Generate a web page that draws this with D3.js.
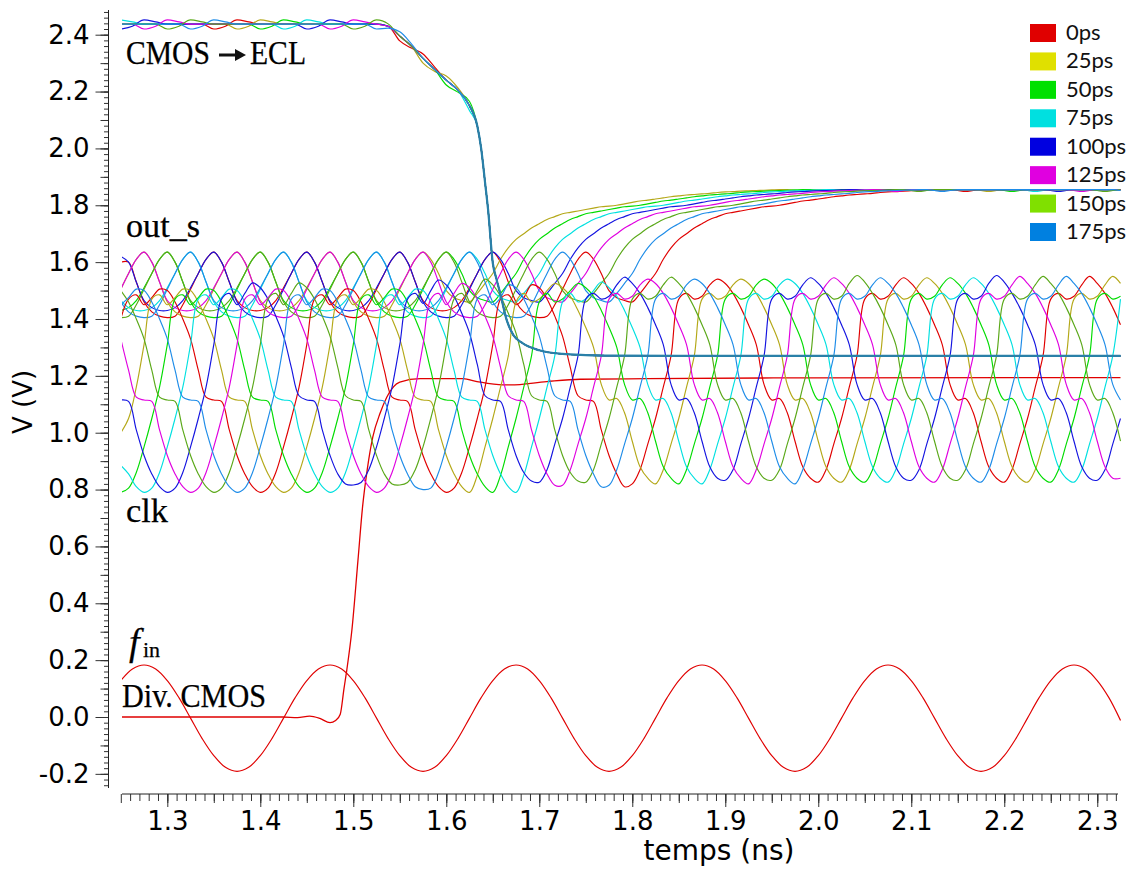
<!DOCTYPE html>
<html><head><meta charset="utf-8">
<script src="https://d3js.org/d3.v7.min.js"></script>
<style>html,body{margin:0;background:#fff}svg{display:block}</style></head>
<body><svg id="c" width="1134" height="871"></svg>
<script>
const legendLabels=["0ps","25ps","50ps","75ps","100ps","125ps","150ps","175ps"];
const legendColors=["#e00000","#e0e000","#00e000","#00e0e0","#0000e0","#e000e0","#80e000","#0080e0"];
const traceColors=["#e00000","#b4a818","#00dc00","#00e0e0","#1414e0","#e000e0","#5aa818","#1e8ce8"];
const xMajor=[1.3,1.4,1.5,1.6,1.7,1.8,1.9,2.0,2.1,2.2,2.3];
const yMajor=[2.4,2.2,2.0,1.8,1.6,1.4,1.2,1.0,0.8,0.6,0.4,0.2,0.0,-0.2];
const sampleCount=130; // clk and out_s sampled every 1/120 ns from 1.25 ns

const clk0=[1.40,1.47,1.485,1.45,1.475,1.505,1.50,1.46,1.40,1.33,1.22,1.125,1.115,1.11,1.01,.92,.855,.81,
.79,.805,.86,.95,1.05,1.16,1.31,1.47,1.485,1.45,1.475,1.505,1.50,1.46,1.40,1.33,1.22,1.125,1.115,1.11,1.01,.92,.855,.81,
.79,.805,.86,.95,1.05,1.16,1.31,1.47,1.485,1.45,1.475,1.52,1.51,1.47,1.41,1.34,1.23,1.13,1.115,1.11,1.01,.92,.855,.81,
.82,.87,.96,1.05,1.16,1.27,1.47,1.49,1.47,1.48,1.52,1.54,1.525,1.49,1.44,1.38,1.31,1.17,1.115,1.12,1.07,.97,.88,.84,
.826,.87,.96,1.05,1.16,1.27,1.47,1.49,1.47,1.48,1.52,1.545,1.525,1.49,1.44,1.38,1.31,1.17,1.115,1.12,1.07,.97,.88,.84,
.826,.87,.96,1.05,1.16,1.27,1.47,1.49,1.47,1.48,1.52,1.55,1.525,1.49,1.44,1.38];
const clk25=[1.00,1.05,1.16,1.31,1.47,1.485,1.45,1.475,1.505,1.50,1.46,1.40,1.33,1.22,1.125,1.115,1.11,1.01,.92,.855,.81,
.79,.805,.86,.95,1.05,1.16,1.31,1.47,1.485,1.45,1.475,1.505,1.50,1.46,1.40,1.33,1.22,1.125,1.115,1.11,1.01,.92,.855,.81,
.79,.85,.95,1.05,1.16,1.27,1.46,1.49,1.46,1.47,1.50,1.525,1.51,1.48,1.43,1.37,1.30,1.17,1.115,1.12,1.07,.97,.88,.84,
.82,.87,.96,1.05,1.16,1.27,1.47,1.49,1.47,1.48,1.52,1.54,1.525,1.49,1.44,1.38,1.31,1.17,1.115,1.12,1.07,.97,.88,.84,
.826,.87,.96,1.05,1.16,1.27,1.47,1.49,1.47,1.48,1.52,1.545,1.525,1.49,1.44,1.38,1.31,1.17,1.115,1.12,1.07,.97,.88,.84,
.826,.87,.96,1.05,1.16,1.27,1.47,1.49,1.47,1.48,1.52,1.55,1.525];
const clk50=[.79,.805,.86,.95,1.05,1.16,1.31,1.47,1.485,1.45,1.475,1.505,1.50,1.46,1.40,1.33,1.22,1.125,1.115,1.11,1.01,.92,.855,.81,
.79,.805,.86,.95,1.05,1.16,1.31,1.47,1.485,1.45,1.475,1.505,1.50,1.46,1.40,1.33,1.22,1.125,1.115,1.11,1.01,.92,.855,.81,
.79,.85,.95,1.05,1.16,1.27,1.46,1.49,1.46,1.47,1.50,1.525,1.51,1.48,1.43,1.37,1.30,1.17,1.115,1.12,1.07,.97,.88,.84,
.82,.87,.96,1.05,1.16,1.27,1.47,1.49,1.47,1.48,1.52,1.54,1.525,1.49,1.44,1.38,1.31,1.17,1.115,1.12,1.07,.97,.88,.84,
.826,.87,.96,1.05,1.16,1.27,1.47,1.49,1.47,1.48,1.52,1.545,1.525,1.49,1.44,1.38,1.31,1.17,1.115,1.12,1.07,.97,.88,.84,
.826,.87,.96,1.05,1.16,1.27,1.47,1.49,1.47,1.48];
const clk75=[.885,.855,.81,
.79,.805,.86,.95,1.05,1.16,1.31,1.47,1.485,1.45,1.475,1.505,1.50,1.46,1.40,1.33,1.22,1.125,1.115,1.11,1.01,.92,.855,.81,
.79,.805,.86,.95,1.05,1.16,1.31,1.47,1.485,1.45,1.475,1.505,1.50,1.46,1.40,1.33,1.22,1.125,1.115,1.11,1.01,.92,.855,.81,
.79,.85,.95,1.05,1.16,1.27,1.46,1.49,1.46,1.47,1.50,1.53,1.51,1.48,1.43,1.37,1.30,1.17,1.115,1.12,1.07,.97,.88,.84,
.82,.87,.96,1.05,1.16,1.27,1.47,1.49,1.47,1.48,1.52,1.54,1.525,1.49,1.44,1.38,1.31,1.17,1.115,1.12,1.07,.97,.88,.84,
.826,.87,.96,1.05,1.16,1.27,1.47,1.49,1.47,1.48,1.52,1.545,1.525,1.49,1.44,1.38,1.31,1.17,1.115,1.12,1.07,.97,.88,.84,
.826,.87,.96,1.05,1.16,1.27,1.47];
const clk100=[1.115,1.11,1.01,.92,.855,.81,
.79,.805,.86,.95,1.05,1.16,1.31,1.47,1.49,1.45,1.49,1.527,1.51,1.47,1.41,1.34,1.23,1.13,1.115,1.11,1.01,.92,.855,.82,
.816,.825,.87,.95,1.05,1.16,1.31,1.47,1.49,1.455,1.50,1.537,1.52,1.48,1.42,1.35,1.24,1.13,1.115,1.11,1.01,.92,.86,.83,
.826,.87,.96,1.05,1.16,1.27,1.47,1.49,1.47,1.48,1.52,1.547,1.525,1.49,1.44,1.38,1.31,1.17,1.115,1.12,1.07,.97,.88,.84,
.833,.87,.96,1.05,1.16,1.27,1.47,1.49,1.47,1.48,1.52,1.545,1.525,1.49,1.44,1.38,1.31,1.17,1.115,1.12,1.07,.97,.88,.84,
.833,.87,.96,1.05,1.16,1.27,1.47,1.49,1.47,1.48,1.525,1.553,1.53,1.49,1.44,1.38,1.31,1.17,1.115,1.12,1.07,.97,.88,.84,
.833,.87,.96,1.05];
const clk125=[1.33,1.22,1.125,1.115,1.11,1.01,.92,.855,.81,
.79,.805,.86,.95,1.05,1.16,1.31,1.47,1.485,1.45,1.475,1.505,1.50,1.46,1.40,1.33,1.22,1.125,1.115,1.11,1.01,.92,.855,.81,
.79,.805,.86,.95,1.05,1.16,1.31,1.47,1.49,1.45,1.49,1.525,1.51,1.47,1.41,1.34,1.23,1.13,1.115,1.11,1.01,.92,.855,.815,
.815,.87,.96,1.05,1.16,1.27,1.47,1.49,1.47,1.48,1.52,1.54,1.525,1.49,1.44,1.38,1.31,1.17,1.115,1.12,1.07,.97,.88,.84,
.82,.87,.96,1.05,1.16,1.27,1.47,1.49,1.47,1.48,1.52,1.545,1.525,1.49,1.44,1.38,1.31,1.17,1.115,1.12,1.07,.97,.88,.84,
.826,.87,.96,1.05,1.16,1.27,1.47,1.49,1.47,1.48,1.52,1.55,1.525,1.49,1.44,1.38,1.31,1.17,1.115,1.12,1.07,.97,.88,.84,
.84];
const clk150=[1.50,1.46,1.40,1.33,1.22,1.125,1.115,1.11,1.01,.92,.855,.81,
.79,.805,.86,.95,1.05,1.16,1.31,1.47,1.49,1.45,1.49,1.527,1.51,1.47,1.41,1.34,1.23,1.13,1.115,1.11,1.01,.92,.855,.82,
.816,.825,.87,.95,1.05,1.16,1.31,1.47,1.49,1.455,1.50,1.54,1.52,1.48,1.42,1.35,1.24,1.13,1.115,1.11,1.01,.92,.86,.83,
.826,.87,.96,1.05,1.16,1.27,1.47,1.49,1.47,1.48,1.52,1.547,1.525,1.49,1.44,1.38,1.31,1.17,1.115,1.12,1.07,.97,.88,.84,
.833,.87,.96,1.05,1.16,1.27,1.47,1.49,1.47,1.48,1.525,1.553,1.53,1.49,1.44,1.38,1.31,1.17,1.115,1.12,1.07,.97,.88,.84,
.833,.87,.96,1.05,1.16,1.27,1.47,1.49,1.47,1.48,1.52,1.55,1.525,1.49,1.44,1.38,1.31,1.17,1.115,1.12,1.07,.97];
const clk175=[1.45,1.475,1.505,1.50,1.46,1.40,1.33,1.22,1.125,1.115,1.11,1.01,.92,.855,.81,
.79,.805,.86,.95,1.05,1.16,1.31,1.47,1.485,1.45,1.475,1.505,1.50,1.46,1.40,1.33,1.22,1.125,1.115,1.11,1.01,.92,.855,.81,
.80,.805,.86,.95,1.05,1.16,1.31,1.47,1.485,1.45,1.475,1.52,1.51,1.47,1.41,1.34,1.23,1.13,1.115,1.11,1.01,.92,.855,.81,
.815,.87,.96,1.05,1.16,1.27,1.47,1.49,1.47,1.48,1.52,1.54,1.525,1.49,1.44,1.38,1.31,1.17,1.115,1.12,1.07,.97,.88,.84,
.82,.87,.96,1.05,1.16,1.27,1.47,1.49,1.47,1.48,1.52,1.545,1.525,1.49,1.44,1.38,1.31,1.17,1.115,1.12,1.07,.97,.88,.84,
.826,.87,.96,1.05,1.16,1.27,1.47,1.49,1.47,1.48,1.52,1.55,1.525,1.49,1.44,1.38,1.31,1.17,1.115];

const out0=[1.60,
1.60,1.53,1.46,1.425,1.41,1.405,1.41,1.45,1.505,1.56,1.61,1.635,
1.60,1.53,1.465,1.44,1.43,1.43,1.44,1.465,1.51,1.56,1.61,1.635,
1.60,1.53,1.46,1.425,1.41,1.405,1.41,1.45,1.505,1.56,1.61,1.635,
1.60,1.53,1.465,1.44,1.43,1.43,1.44,1.465,1.51,1.56,1.61,1.635,
1.60,1.53,1.46,1.425,1.41,1.405,1.41,1.45,1.505,1.56,1.61,1.635,
1.61,1.56,1.50,1.475,1.465,1.46,1.49,1.525,1.56,1.61,1.65,1.68,1.70,1.72,1.735,1.75,1.76,1.77,1.775,1.78,1.785,1.79,1.795,1.797,1.80,1.805,1.81,1.815,1.818,1.822,1.826,1.83,1.833,1.836,1.838,1.84,1.842,1.845,1.847,1.848,1.85,1.851,1.852,1.853,1.854,
1.855,1.855,1.852,1.849,1.852,
1.855,1.855,1.855,1.855,1.855,1.855,1.855,1.855,1.855,1.855,1.855,1.855,1.855,1.855,1.855,1.855,1.855,1.855,1.855];
const out25=[1.505,1.56,1.61,1.635,
1.60,1.53,1.46,1.425,1.41,1.405,1.41,1.45,1.505,1.56,1.61,1.635,
1.60,1.53,1.465,1.44,1.43,1.43,1.44,1.465,1.51,1.56,1.61,1.635,
1.60,1.53,1.46,1.425,1.41,1.405,1.41,1.45,1.505,1.56,1.61,1.635,
1.61,1.56,1.50,1.475,1.465,1.46,1.49,1.525,1.56,1.61,1.65,1.68,1.70,1.72,1.735,1.75,1.76,1.77,1.775,1.78,1.785,1.79,1.795,1.797,1.80,1.805,1.81,1.815,1.818,1.822,1.826,1.83,1.833,1.836,1.838,1.84,1.842,1.845,1.847,1.848,1.85,1.851,1.852,1.853,1.854,
1.855,1.855,1.852,1.849,1.852,
1.855,1.855,1.855,1.855,1.855,1.855,1.855,1.855,1.855,1.855,1.855,1.855,1.855,1.855,1.855,1.855,1.855,1.855,1.855,1.855,1.855,
1.852,1.849,1.852,
1.855,1.855,1.855,1.855,1.855,1.855,1.855,1.855,1.855,1.855,1.855,1.855,1.855,1.855,1.855,1.855];
const out50=[1.43,1.44,1.465,1.51,1.56,1.61,1.635,
1.60,1.53,1.46,1.425,1.41,1.405,1.41,1.45,1.505,1.56,1.61,1.635,
1.60,1.53,1.465,1.44,1.43,1.43,1.44,1.465,1.51,1.56,1.61,1.635,
1.60,1.53,1.46,1.425,1.41,1.405,1.41,1.45,1.505,1.56,1.61,1.635,
1.61,1.56,1.50,1.475,1.465,1.46,1.49,1.525,1.56,1.61,1.65,1.68,1.70,1.72,1.735,1.75,1.76,1.77,1.775,1.78,1.785,1.79,1.795,1.797,1.80,1.805,1.81,1.815,1.818,1.822,1.826,1.83,1.833,1.836,1.838,1.84,1.842,1.845,1.847,1.848,1.85,1.851,1.852,1.853,1.854,
1.855,1.855,1.852,1.849,1.852,
1.855,1.855,1.855,1.855,1.855,1.855,1.855,1.855,1.855,1.855,1.855,1.855,1.855,1.855,1.855,1.855,1.855,1.855,1.855,1.855,1.855,
1.852,1.849,1.852,
1.855,1.855,1.855,1.855,1.855,1.855,1.855,1.855,1.855,1.855,1.855,1.855,1.855];
const out75=[1.465,1.44,1.43,1.43,1.44,1.465,1.51,1.56,1.61,1.635,
1.60,1.53,1.46,1.425,1.41,1.405,1.41,1.45,1.505,1.56,1.61,1.635,
1.60,1.53,1.465,1.44,1.43,1.43,1.44,1.465,1.51,1.56,1.61,1.635,
1.60,1.53,1.46,1.425,1.41,1.405,1.41,1.45,1.505,1.56,1.61,1.635,
1.61,1.56,1.50,1.475,1.465,1.46,1.49,1.525,1.56,1.61,1.65,1.68,1.70,1.72,1.735,1.75,1.76,1.77,1.775,1.78,1.785,1.79,1.795,1.797,1.80,1.805,1.81,1.815,1.818,1.822,1.826,1.83,1.833,1.836,1.838,1.84,1.842,1.845,1.847,1.848,1.85,1.851,1.852,1.853,1.854,
1.855,1.855,1.852,1.849,1.852,
1.855,1.855,1.855,1.855,1.855,1.855,1.855,1.855,1.855,1.855,1.855,1.855,1.855,1.855,1.855,1.855,1.855,1.855,1.855,1.855,1.855,
1.852,1.849,1.852,
1.855,1.855,1.855,1.855,1.855,1.855,1.855,1.855,1.855,1.855];
const out100=[1.62,
1.60,1.53,1.465,1.44,1.43,1.43,1.44,1.465,1.51,1.56,1.61,1.635,
1.60,1.53,1.46,1.425,1.41,1.405,1.41,1.45,1.505,1.56,1.61,1.635,
1.60,1.53,1.465,1.44,1.43,1.43,1.44,1.465,1.51,1.56,1.61,1.635,
1.60,1.53,1.46,1.425,1.41,1.405,1.41,1.45,1.505,1.56,1.61,1.635,
1.61,1.56,1.50,1.475,1.465,1.46,1.49,1.525,1.56,1.61,1.65,1.68,1.70,1.72,1.735,1.75,1.76,1.77,1.775,1.78,1.785,1.79,1.795,1.797,1.80,1.805,1.81,1.815,1.818,1.822,1.826,1.83,1.833,1.836,1.838,1.84,1.842,1.845,1.847,1.848,1.85,1.851,1.852,1.853,1.854,
1.855,1.855,1.852,1.849,1.852,
1.855,1.855,1.855,1.855,1.855,1.855,1.855,1.855,1.855,1.855,1.855,1.855,1.855,1.855,1.855,1.855,1.855,1.855,1.855,1.855,1.855,
1.852,1.849,1.852,
1.855,1.855,1.855,1.855,1.855,1.855,1.855];
const out125=[1.505,1.56,1.61,1.635,
1.60,1.53,1.465,1.44,1.43,1.43,1.44,1.465,1.51,1.56,1.61,1.635,
1.60,1.53,1.46,1.425,1.41,1.405,1.41,1.45,1.505,1.56,1.61,1.635,
1.60,1.53,1.465,1.44,1.43,1.43,1.44,1.465,1.51,1.56,1.61,1.635,
1.60,1.53,1.46,1.425,1.41,1.405,1.41,1.45,1.505,1.56,1.61,1.635,
1.61,1.56,1.50,1.475,1.465,1.46,1.49,1.525,1.56,1.61,1.65,1.68,1.70,1.72,1.735,1.75,1.76,1.77,1.775,1.78,1.785,1.79,1.795,1.797,1.80,1.805,1.81,1.815,1.818,1.822,1.826,1.83,1.833,1.836,1.838,1.84,1.842,1.845,1.847,1.848,1.85,1.851,1.852,1.853,1.854,
1.855,1.855,1.852,1.849,1.852,
1.855,1.855,1.855,1.855,1.855,1.855,1.855,1.855,1.855,1.855,1.855,1.855,1.855,1.855,1.855,1.855,1.855,1.855,1.855,1.855,1.855,
1.852,1.849,1.852,
1.855,1.855,1.855,1.855];
const out150=[1.405,1.41,1.45,1.505,1.56,1.61,1.635,
1.60,1.53,1.465,1.44,1.43,1.43,1.44,1.465,1.51,1.56,1.61,1.635,
1.60,1.53,1.46,1.425,1.41,1.405,1.41,1.45,1.505,1.56,1.61,1.635,
1.60,1.53,1.465,1.44,1.43,1.43,1.44,1.465,1.51,1.56,1.61,1.635,
1.60,1.53,1.46,1.425,1.41,1.405,1.41,1.45,1.505,1.56,1.61,1.635,
1.61,1.56,1.50,1.475,1.465,1.46,1.49,1.525,1.56,1.61,1.65,1.68,1.70,1.72,1.735,1.75,1.76,1.77,1.775,1.78,1.785,1.79,1.795,1.797,1.80,1.805,1.81,1.815,1.818,1.822,1.826,1.83,1.833,1.836,1.838,1.84,1.842,1.845,1.847,1.848,1.85,1.851,1.852,1.853,1.854,
1.855,1.855,1.852,1.849,1.852,
1.855,1.855,1.855,1.855,1.855,1.855,1.855,1.855,1.855,1.855,1.855,1.855,1.855,1.855,1.855,1.855,1.855,1.855,1.855,1.855,1.855,
1.852,1.849,1.852,
1.855];
const out175=[1.46,1.425,1.41,1.405,1.41,1.45,1.505,1.56,1.61,1.635,
1.60,1.53,1.465,1.44,1.43,1.43,1.44,1.465,1.51,1.56,1.61,1.635,
1.60,1.53,1.46,1.425,1.41,1.405,1.41,1.45,1.505,1.56,1.61,1.635,
1.60,1.53,1.465,1.44,1.43,1.43,1.44,1.465,1.51,1.56,1.61,1.635,
1.60,1.53,1.46,1.425,1.41,1.405,1.41,1.45,1.505,1.56,1.61,1.635,
1.61,1.56,1.50,1.475,1.465,1.46,1.49,1.525,1.56,1.61,1.65,1.68,1.70,1.72,1.735,1.75,1.76,1.77,1.775,1.78,1.785,1.79,1.795,1.797,1.80,1.805,1.81,1.815,1.818,1.822,1.826,1.83,1.833,1.836,1.838,1.84,1.842,1.845,1.847,1.848,1.85,1.851,1.852,1.853,1.854,
1.855,1.855,1.852,1.849,1.852,
1.855,1.855,1.855,1.855,1.855,1.855,1.855,1.855,1.855,1.855,1.855,1.855,1.855,1.855,1.855,1.855,1.855,1.855,1.855,1.855,1.855,
1.852];

const dropTimes=[1.25,1.2625,1.275,1.2875,1.30,1.3125,1.325,1.3375,1.35,1.3625,1.375,1.3875,1.40,1.4125,1.425,1.4375,1.45,1.4625,1.475,1.4875,1.50,1.5125,1.525,1.5375,1.55,1.5625,1.575,1.5875,1.60,1.6125,1.625,
1.6333,1.6375,1.6417,1.645,1.65,1.654,1.658,1.665,1.672,1.682,1.70,1.725,1.75,1.78,1.85,1.95,2.05,2.15,2.25,2.325];
const dropTail=[2.08,2.00,1.88,1.783,1.597,1.54,1.49,1.396,1.344,1.315,1.29,1.277,1.273,1.271,1.27,1.27,1.27,1.27,1.27,1.27];
const drop0=[2.437,2.437,2.437,2.437,2.437,2.437,2.437,2.437,2.42,2.43,2.452,2.445,2.437,2.437,2.437,2.437,2.437,2.437,2.437,2.437,2.437,2.437,2.437,2.43,2.378,2.353,2.332,2.286,2.24,2.205,2.15];
const drop25=[2.437,2.437,2.437,2.437,2.437,2.437,2.437,2.437,2.437,2.437,2.42,2.43,2.452,2.445,2.437,2.437,2.437,2.437,2.437,2.437,2.437,2.437,2.437,2.43,2.395,2.36,2.30,2.271,2.255,2.213,2.15];
const drop50=[2.437,2.437,2.437,2.437,2.437,2.437,2.437,2.437,2.437,2.437,2.437,2.437,2.42,2.43,2.452,2.445,2.437,2.437,2.437,2.437,2.437,2.437,2.437,2.43,2.395,2.36,2.317,2.278,2.223,2.198,2.165];
const drop75=[2.452,2.445,2.437,2.437,2.437,2.437,2.437,2.437,2.437,2.437,2.437,2.437,2.437,2.437,2.42,2.43,2.452,2.445,2.437,2.437,2.437,2.437,2.437,2.43,2.395,2.36,2.317,2.278,2.24,2.205,2.133];
const drop100=[2.42,2.43,2.452,2.445,2.437,2.437,2.437,2.437,2.437,2.437,2.437,2.437,2.437,2.437,2.437,2.437,2.42,2.43,2.452,2.445,2.437,2.437,2.437,2.43,2.395,2.36,2.317,2.278,2.24,2.205,2.15];
const drop125=[2.437,2.437,2.42,2.43,2.452,2.445,2.437,2.437,2.437,2.437,2.437,2.437,2.437,2.437,2.437,2.437,2.437,2.437,2.42,2.43,2.452,2.445,2.437,2.43,2.395,2.36,2.317,2.278,2.24,2.205,2.15];
const drop150=[2.437,2.437,2.437,2.437,2.42,2.43,2.452,2.445,2.437,2.437,2.437,2.437,2.437,2.437,2.437,2.437,2.437,2.437,2.437,2.437,2.42,2.43,2.452,2.438,2.395,2.36,2.317,2.278,2.24,2.205,2.15];
const drop175=[2.437,2.437,2.437,2.437,2.437,2.437,2.42,2.43,2.452,2.445,2.437,2.437,2.437,2.437,2.437,2.437,2.437,2.437,2.437,2.437,2.437,2.437,2.42,2.423,2.41,2.368,2.317,2.278,2.24,2.205,2.15];

const divTimes=[1.25,1.35,1.424,1.44,1.453,1.464,1.475,1.481,1.486,1.49,1.493,1.4985,1.505,1.51,1.515,1.521,1.529,1.536,1.55,1.572,1.618,1.633,1.661,1.669,1.708,1.744,1.816,1.991,2.325];
const divValues=[0,0,0,-.002,.003,-.005,-.02,-.012,.01,.10,.165,.306,.55,.74,.87,.985,1.07,1.125,1.178,1.19,1.19,1.18,1.168,1.168,1.18,1.188,1.19,1.193,1.194];
const finStep=0.0125;
const finValues=[.128,.169,
.183,.169,.128,.068,-.004,-.076,-.136,-.177,-.191,-.177,-.136,-.076,-.004,.068,.128,.169,
.183,.169,.128,.068,-.004,-.076,-.136,-.177,-.191,-.177,-.136,-.076,-.004,.068,.128,.169,
.183,.169,.128,.068,-.004,-.076,-.136,-.177,-.191,-.177,-.136,-.076,-.004,.068,.128,.169,
.183,.169,.128,.068,-.004,-.076,-.136,-.177,-.191,-.177,-.136,-.076,-.004,.068,.128,.169,
.183,.169,.128,.068,-.004,-.076,-.136,-.177,-.191,-.177,-.136,-.076,-.004,.068,.128,.169,
.183,.169,.128,.068,-.012];

const clkSeries=[clk0,clk25,clk50,clk75,clk100,clk125,clk150,clk175];
const outSeries=[out0,out25,out50,out75,out100,out125,out150,out175];
const dropSeries=[drop0,drop25,drop50,drop75,drop100,drop125,drop150,drop175];

const svg=d3.select("#c");
const x=d3.scaleLinear().domain([1.25,2.325]).range([120.8,1120.5]);
const y=d3.scaleLinear().domain([0,2.4]).range([717,34.7]);
const gridTimes=d3.range(sampleCount).map(k=>1.25+k/120);
const finTimes=finValues.map((_,i)=>1.25+i*finStep);

svg.append("defs").append("clipPath").attr("id","plot").append("rect")
  .attr("x",122).attr("y",0).attr("width",999).attr("height",871);
const plot=svg.append("g").attr("clip-path","url(#plot)").attr("fill","none").attr("stroke-width",1.15);
function trace(times,vals,color,curve,w){
  const l=d3.line().x((d,i)=>x(times[i])).y(d=>y(d)).curve(curve);
  const p=plot.append("path").attr("d",l(vals)).attr("stroke",color);
  if(w) p.attr("stroke-width",w);
}
const smooth=d3.curveCatmullRom.alpha(0.5);
trace(finTimes,finValues,"#e00000",smooth);
trace(divTimes,divValues,"#e00000",d3.curveMonotoneX,1.3);
outSeries.forEach((s,i)=>trace(gridTimes,s,traceColors[i],smooth));
clkSeries.forEach((s,i)=>trace(gridTimes,s,traceColors[i],smooth));
dropSeries.forEach((s,i)=>trace(dropTimes,s.concat(dropTail),traceColors[i],d3.curveMonotoneX));
// overlapping settled traces read as one heavier blue-grey line
trace(dropTimes.slice(30),drop175.slice(30).concat(dropTail),"#2a80a8",d3.curveMonotoneX,2.2);

// X axis
const axisColor="#333";
const xAxisY=794;
const gx=svg.append("g").attr("transform",`translate(0,${xAxisY})`);
function xTicks(vals,len){
  const a=d3.axisBottom(x).tickValues(vals).tickSize(len).tickFormat("");
  const g=gx.append("g").call(a);
  g.select(".domain").remove();
  g.selectAll("line").attr("stroke",axisColor).attr("stroke-width",1);
  g.selectAll("text").remove();
}
const xMinor=d3.range(126,233).map(i=>i/100);
xTicks(xMinor,7);
xTicks(d3.range(22).map(i=>1.25+i*0.05).filter(v=>v<2.325),9);
const xa=d3.axisBottom(x).tickValues(xMajor).tickSize(13).tickFormat(d3.format(".1f")).tickPadding(5);
const gxM=gx.append("g").call(xa);
gxM.select(".domain").remove();
gxM.selectAll("line").attr("stroke",axisColor).attr("stroke-width",1);
gxM.selectAll("text").attr("font-family","DejaVu Sans").attr("font-size",26).attr("fill","#000");
gx.append("line").attr("x1",122).attr("x2",1118).attr("y1",0).attr("y2",0).attr("stroke","#222");

// Y axis
const yAxisX=108.5;
const gy=svg.append("g").attr("transform",`translate(${yAxisX},0)`);
function yTicks(vals,len){
  const a=d3.axisLeft(y).tickValues(vals).tickSize(len).tickFormat("");
  const g=gy.append("g").call(a);
  g.select(".domain").remove();
  g.selectAll("line").attr("stroke",axisColor).attr("stroke-width",1);
  g.selectAll("text").remove();
}
yTicks(d3.range(-12,125).map(i=>i*0.02),4.5);
yTicks(d3.range(-2,25).map(i=>i*0.1),8);
const ya=d3.axisLeft(y).tickValues(yMajor).tickSize(13).tickFormat(d3.format(".1f")).tickPadding(6);
const gyM=gy.append("g").call(ya);
gyM.select(".domain").remove();
gyM.selectAll("line").attr("stroke",axisColor).attr("stroke-width",1);
gyM.selectAll("text").attr("font-family","DejaVu Sans").attr("font-size",26).attr("fill","#000")
  .text(d=>d3.format(".1f")(d).replace("\u2212","-"));
gy.append("line").attr("x1",0).attr("x2",0).attr("y1",10).attr("y2",788).attr("stroke","#222");

// Axis titles
svg.append("text").text("temps (ns)").attr("x",719).attr("y",860).attr("text-anchor","middle")
  .attr("font-family","DejaVu Sans").attr("font-size",28).attr("fill","#000");
svg.append("text").text("V (V)").attr("transform","translate(32,402) rotate(-90)").attr("text-anchor","middle")
  .attr("font-family","DejaVu Sans").attr("font-size",26).attr("fill","#000");

// Annotations
function note(t,xp,yp,len,size){
  const n=svg.append("text").text(t).attr("x",xp).attr("y",yp).attr("font-family","Liberation Serif")
    .attr("font-size",size||33).attr("fill","#000").attr("stroke","#000").attr("stroke-width",0.25);
  if(len) n.attr("textLength",len).attr("lengthAdjust","spacingAndGlyphs");
  return n;
}
note("CMOS",126,64,84);
note("ECL",250,64,56);
note("out_s",126,237,74);
note("clk",126,522,42);
note("Div. CMOS",122,707,144);
note("f",129,655,0,38).attr("font-style","italic");
note("in",143,657,0,22);
svg.append("line").attr("x1",219).attr("x2",236).attr("y1",55).attr("y2",55).attr("stroke","#111").attr("stroke-width",3);
svg.append("path").attr("d","M235,49 L246,55 L235,61 Z").attr("fill","#111");

// Legend
const lg=svg.append("g");
const legendY=d3.scaleLinear().domain([0,7]).range([24,223]);
legendLabels.forEach((t,i)=>{
  lg.append("rect").attr("x",1030).attr("y",legendY(i)).attr("width",26).attr("height",18).attr("fill",legendColors[i]);
  lg.append("text").text(t).attr("x",1066).attr("y",legendY(i)+16).attr("font-family","Lato").attr("font-size",22).attr("fill","#111");
});
</script></body></html>
